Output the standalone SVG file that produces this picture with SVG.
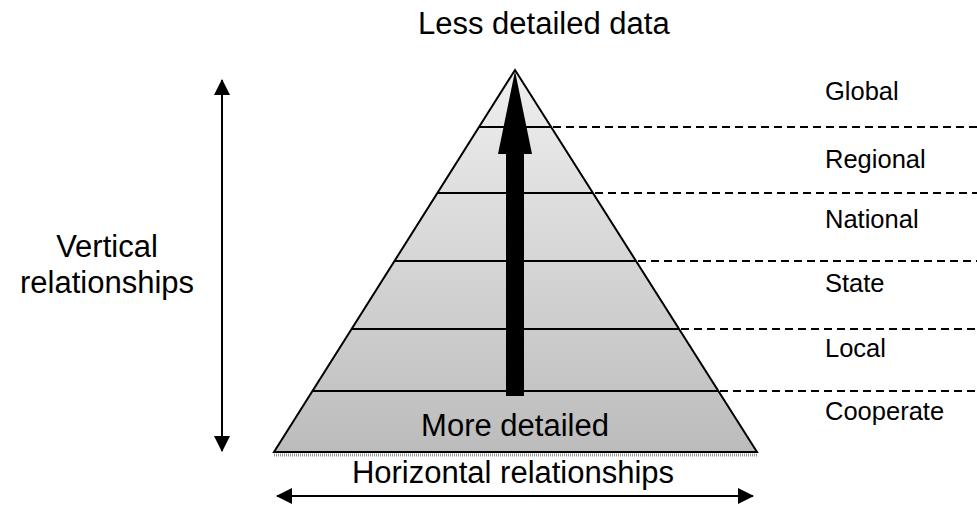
<svg xmlns="http://www.w3.org/2000/svg" width="977" height="505" viewBox="0 0 977 505">
<style>
.t{font-family:"Liberation Sans",Arial,sans-serif;fill:#000}
.big{font-size:31px}
.lbl{font-size:25.5px}
.tier{stroke:#000;stroke-width:2;fill:none}
.dash{stroke:#000;stroke-width:2;stroke-dasharray:8,5;fill:none}
.conn{stroke:#000;stroke-width:2;fill:none}
</style>
<defs>
<linearGradient id="g" x1="0" y1="70" x2="0" y2="452" gradientUnits="userSpaceOnUse">
<stop offset="0" stop-color="#efefef"/>
<stop offset="1" stop-color="#bcbcbc"/>
</linearGradient>
<marker id="ah" viewBox="0 0 16 16" refX="15" refY="8" markerWidth="16" markerHeight="16" markerUnits="userSpaceOnUse" orient="auto-start-reverse">
<path d="M0,0 L16,8 L0,16 Z" fill="#000"/>
</marker>
</defs>
<rect width="977" height="505" fill="#fff"/>
<g id="pyramid">
<line x1="274" y1="455" x2="757" y2="455" stroke="#999" stroke-width="3" stroke-dasharray="1,1"/>
<polygon points="515,70 757,452 274,452" fill="url(#g)" stroke="#000" stroke-width="2" stroke-linejoin="miter"/>
<line class="tier" x1="479" y1="127" x2="551" y2="127"/>
<line class="tier" x1="437" y1="193" x2="593" y2="193"/>
<line class="tier" x1="394" y1="261" x2="636" y2="261"/>
<line class="tier" x1="352" y1="329" x2="679" y2="329"/>
<line class="tier" x1="313" y1="391" x2="718" y2="391"/>
<text class="t big" x="515" y="436" text-anchor="middle">More detailed</text>
</g>
<g id="levels">
<line class="dash" x1="553" y1="127" x2="977" y2="127"/>
<line class="dash" x1="595" y1="193" x2="977" y2="193"/>
<line class="dash" x1="638" y1="261" x2="977" y2="261"/>
<line class="dash" x1="681" y1="329" x2="977" y2="329"/>
<line class="dash" x1="720" y1="391" x2="977" y2="391"/>
<text class="t lbl" x="825" y="100">Global</text>
<text class="t lbl" x="825" y="168">Regional</text>
<text class="t lbl" x="825" y="228">National</text>
<text class="t lbl" x="825" y="292">State</text>
<text class="t lbl" x="825" y="357">Local</text>
<text class="t lbl" x="825" y="420">Cooperate</text>
</g>
<g id="title">
<text class="t big" x="418" y="34">Less detailed data</text>
</g>
<g id="vertical">
<text class="t big" x="107" y="257" text-anchor="middle">Vertical</text>
<text class="t big" x="107" y="293" text-anchor="middle">relationships</text>
</g>
<g id="horizontal">
<text class="t big" x="513" y="483" text-anchor="middle">Horizontal relationships</text>
</g>
<g id="connectors">
<polygon points="515,71 532,154 524,154 524,396 506,396 506,154 498,154" fill="#000"/>
<line class="conn" x1="222" y1="80" x2="222" y2="451" marker-start="url(#ah)" marker-end="url(#ah)"/>
<line class="conn" x1="277" y1="496" x2="753" y2="496" marker-start="url(#ah)" marker-end="url(#ah)"/>
</g>
</svg>
